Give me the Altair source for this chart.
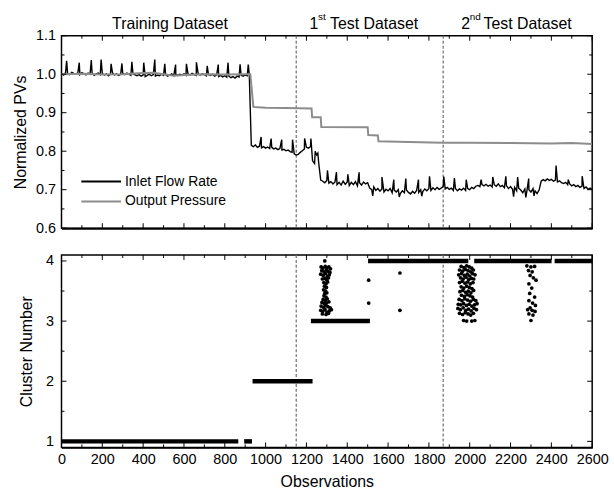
import altair as alt
import pandas as pd

F = "Liberation Sans"

# ---------------- data ----------------
flow_obs = list(range(0, 2601, 10))
flow_val = [
    1.002, 0.998, 1.004, 1.001, 0.999, 1.005, 1.002, 1.000, 1.003, 0.999,
    1.004, 1.001, 0.998, 1.003, 1.000, 1.002, 0.997, 1.001, 1.003, 0.999,
    1.002, 0.998, 1.001, 0.996, 1.000, 1.003, 0.998, 1.001, 0.997, 1.000,
    1.002, 0.999, 1.003, 1.000, 0.997, 1.001, 0.998, 0.996, 0.999, 0.995,
    0.998, 0.994, 0.997, 1.000, 0.996, 0.999, 0.995, 0.998, 0.996, 1.000,
    0.997, 0.999, 0.995, 0.998, 1.001, 0.996, 0.999, 0.997, 1.000, 0.998,
    1.001, 0.997, 1.000, 0.998, 1.002, 0.999, 0.997, 1.000, 0.998, 1.001,
    0.999, 0.996, 0.999, 0.997, 1.000, 0.995, 0.998, 0.994, 0.997, 0.993,
    0.996, 0.992, 0.995, 0.991, 0.994, 0.990, 0.995, 0.993, 0.997, 0.995,
    0.998, 0.996, 0.999, 0.815, 0.812, 0.816, 0.810, 0.813, 0.809, 0.812,
    0.808, 0.811, 0.807, 0.810, 0.806, 0.808, 0.804, 0.807, 0.803, 0.805,
    0.801, 0.803, 0.799, 0.797, 0.793, 0.790, 0.792, 0.797, 0.801, 0.806,
    0.810, 0.808, 0.812, 0.775, 0.768, 0.790, 0.770, 0.725, 0.722, 0.718,
    0.724, 0.717, 0.721, 0.715, 0.720, 0.713, 0.719, 0.712, 0.722, 0.714,
    0.720, 0.711, 0.719, 0.713, 0.721, 0.710, 0.718, 0.712, 0.720, 0.715,
    0.718, 0.704, 0.700, 0.707, 0.698, 0.703, 0.696, 0.702, 0.694, 0.701,
    0.697, 0.703, 0.692, 0.699, 0.694, 0.700, 0.690, 0.697, 0.692, 0.699,
    0.693, 0.689, 0.696, 0.691, 0.698, 0.693, 0.700, 0.695, 0.702, 0.697,
    0.703, 0.698, 0.705, 0.700, 0.706, 0.701, 0.704, 0.708, 0.702, 0.706,
    0.701, 0.704, 0.698, 0.703, 0.697, 0.702, 0.699, 0.704, 0.698, 0.703,
    0.700, 0.706, 0.703, 0.709, 0.711, 0.708, 0.713, 0.710, 0.714, 0.709,
    0.712, 0.707, 0.713, 0.709, 0.715, 0.708, 0.711, 0.705, 0.710, 0.703,
    0.708, 0.701, 0.706, 0.697, 0.704, 0.699, 0.692, 0.702, 0.696, 0.700,
    0.694, 0.703, 0.697, 0.690, 0.699, 0.722, 0.726, 0.723, 0.728, 0.724,
    0.727, 0.722, 0.725, 0.720, 0.723, 0.718, 0.716, 0.719, 0.713, 0.715,
    0.710, 0.713, 0.708, 0.711, 0.706, 0.709, 0.703, 0.707, 0.701, 0.704,
    0.700,
]
spike_obs = [25, 87, 146, 194, 243, 296, 345, 403, 457, 506, 559, 612, 661,
             714, 768, 816, 875, 915, 978, 1027, 1079, 1132, 1191, 1222, 1243,
             1256, 1303, 1347, 1403, 1458, 1525, 1570, 1628, 1655, 1687, 1749,
             1765, 1803, 1873, 1925, 1983, 2056, 2113, 2177, 2215, 2235, 2275,
             2289, 2315, 2423, 2483, 2551]
spike_val = [1.035, 1.030, 1.037, 1.038, 1.027, 1.028, 1.032, 1.030, 1.038,
             1.027, 1.025, 1.027, 1.031, 1.022, 1.025, 1.030, 1.026, 1.025,
             0.837, 0.833, 0.830, 0.830, 0.833, 0.833, 0.800, 0.795, 0.750,
             0.746, 0.740, 0.745, 0.684, 0.733, 0.726, 0.681, 0.729, 0.726,
             0.683, 0.735, 0.734, 0.730, 0.726, 0.726, 0.733, 0.735, 0.682,
             0.733, 0.680, 0.729, 0.684, 0.763, 0.726, 0.735]

press_obs = [0, 100, 200, 300, 400, 450, 500, 550, 600, 700, 800, 900, 925,
             940, 1000, 1100, 1225, 1228, 1270, 1273, 1500, 1503, 1550, 1553,
             1700, 1870, 2000, 2200, 2400, 2500, 2600]
press_val = [1.000, 1.001, 0.999, 1.000, 1.003, 1.004, 1.000, 0.996, 0.998,
             1.000, 0.999, 1.000, 1.000, 0.915, 0.913, 0.912, 0.911, 0.888,
             0.888, 0.863, 0.862, 0.842, 0.841, 0.826, 0.824, 0.822, 0.822,
             0.821, 0.820, 0.821, 0.819]

vline_obs = [1150, 1870]

band_start = [0, 895, 936, 1222, 1502, 2022, 2416]
band_end = [866, 933, 1230, 1511, 1993, 2401, 2600]
band_cluster = [1, 1, 2, 3, 4, 4, 4]

ptA_obs = [1290, 1272, 1280, 1292, 1300, 1310, 1318, 1275, 1286, 1297, 1306,
           1315, 1270, 1282, 1294, 1303, 1312, 1278, 1290, 1300, 1308, 1285,
           1296, 1304, 1288, 1298, 1284, 1294, 1290, 1300, 1286, 1296, 1282,
           1292, 1302, 1276, 1288, 1298, 1310, 1272, 1284, 1295, 1305, 1316,
           1270, 1280, 1291, 1300, 1312, 1322, 1278, 1296, 1308]
ptA_val = [4.00, 3.90, 3.88, 3.91, 3.89, 3.90, 3.87, 3.84, 3.82, 3.85, 3.83,
           3.81, 3.78, 3.76, 3.79, 3.74, 3.77, 3.70, 3.71, 3.68, 3.72, 3.64,
           3.62, 3.65, 3.58, 3.56, 3.52, 3.50, 3.46, 3.47, 3.42, 3.40, 3.36,
           3.34, 3.37, 3.31, 3.29, 3.30, 3.32, 3.25, 3.23, 3.26, 3.24, 3.22,
           3.18, 3.16, 3.19, 3.15, 3.17, 3.19, 3.12, 3.11, 3.13]
ptB_obs = [1958, 1972, 1985, 1998, 2010,
           1950, 1965, 1978, 1992, 2005, 2018,
           1946, 1960, 1974, 1988, 2000, 2014, 2026,
           1955, 1968, 1982, 1995, 2008, 2020,
           1950, 1963, 1977, 1990, 2003, 2016,
           1958, 1971, 1985, 1998, 2011,
           1952, 1966, 1980, 1993, 2006, 2019,
           1960, 1974, 1988, 2001, 2014,
           1948, 1962, 1976, 1990, 2004, 2018, 2030,
           1944, 1956, 1970, 1984, 1997, 2010, 2024, 2036,
           1942, 1954, 1968, 1981, 1994, 2007, 2021, 2033,
           1950, 1965, 1978, 1992, 2005, 2018,
           1970, 1985, 2010, 2025]
ptB_val = [3.91, 3.89, 3.92, 3.90, 3.88,
           3.85, 3.83, 3.86, 3.84, 3.82, 3.85,
           3.77, 3.79, 3.76, 3.78, 3.75, 3.79, 3.77,
           3.72, 3.70, 3.73, 3.69, 3.71, 3.70,
           3.64, 3.66, 3.63, 3.65, 3.62, 3.64,
           3.57, 3.55, 3.58, 3.56, 3.54,
           3.49, 3.51, 3.48, 3.50, 3.47, 3.51,
           3.43, 3.41, 3.44, 3.42, 3.40,
           3.36, 3.34, 3.37, 3.35, 3.33, 3.36, 3.34,
           3.28, 3.27, 3.29, 3.26, 3.28, 3.25, 3.27, 3.29,
           3.21, 3.19, 3.22, 3.18, 3.20, 3.17, 3.21, 3.19,
           3.13, 3.11, 3.14, 3.12, 3.10, 3.13,
           3.01, 3.00, 3.00, 3.01]
ptC_obs = [2280, 2300, 2318, 2288, 2306, 2296, 2312, 2325, 2290, 2304, 2294,
           2318, 2290, 2308, 2322, 2296, 2284, 2306, 2320, 2290, 2310, 2300]
ptC_val = [3.92, 3.90, 3.91, 3.84, 3.82, 3.76, 3.72, 3.68, 3.62, 3.55, 3.46,
           3.40, 3.34, 3.30, 3.26, 3.22, 3.19, 3.18, 3.16, 3.12, 3.10, 3.01]
ptD_obs = [1505, 1505, 1658, 1658]
ptD_val = [3.68, 3.30, 3.80, 3.18]

x_major = list(range(0, 2601, 200))
x_minor = list(range(100, 2600, 200))
pv_major = [0.6, 0.7, 0.8, 0.9, 1.0, 1.1]
pv_minor = [0.65, 0.75, 0.85, 0.95, 1.05]
cl_major = [1, 2, 3, 4]
cl_minor = [1.5, 2.5, 3.5]

series_names = ["Inlet Flow Rate", "Output Pressure"]
series_colors = ["#000000", "#8c8c8c"]

header_main_obs = [248, 1316, 2068]
header_main_txt = ["Training Dataset", "Test Dataset", "Test Dataset"]
header_num_obs = [1215, 1959]
header_num_txt = ["1", "2"]
header_sup_obs = [1257, 2000]
header_sup_txt = ["st", "nd"]

# ---------------- frames ----------------
flow = pd.DataFrame({"obs": flow_obs + spike_obs, "val": flow_val + spike_val})
flow = flow.sort_values("obs", kind="stable")
flow["series"] = series_names[0]
press = pd.DataFrame({"obs": press_obs, "val": press_val})
press["series"] = series_names[1]

bands = pd.DataFrame({"obs": band_start, "obs_end": band_end, "cluster": band_cluster})
pts = pd.DataFrame({"obs": ptA_obs + ptB_obs + ptC_obs + ptD_obs,
                    "cluster": ptA_val + ptB_val + ptC_val + ptD_val})

W, H1, H2 = 535, 194, 194

xs = alt.Scale(domain=[0, 2600], nice=False, zero=False)
ys1 = alt.Scale(domain=[0.6, 1.1], nice=False, zero=False)
ys2 = alt.Scale(domain=[0.9, 4.1], nice=False, zero=False)

x_axis_top = alt.Axis(values=x_major, labels=False, title=None, domain=True,
                      domainWidth=2, domainColor="black")
x_axis_bot = alt.Axis(values=x_major, format="d", title="Observations",
                      labelPadding=5, titlePadding=8, labelFlush=False,
                      domain=True, domainWidth=2, domainColor="black")
y_axis_top = alt.Axis(values=pv_major, format=".1f", title="Normalized PVs",
                      labelPadding=6, titlePadding=7)
y_axis_bot = alt.Axis(values=cl_major, format="d", title="Cluster Number",
                      labelPadding=8, titlePadding=11)


def x_ticks(vals, length, H, xaxis):
    df = pd.DataFrame({"obs": vals})
    base = alt.Chart(df).mark_rule(color="black", strokeWidth=1)
    X = alt.X("obs:Q", scale=xs, axis=xaxis)
    return [base.encode(x=X, y=alt.value(H - length), y2=alt.value(H)),
            base.encode(x=X, y=alt.value(0), y2=alt.value(length))]


def y_ticks(vals, length, field, ys, yaxis):
    df = pd.DataFrame({field: vals})
    base = alt.Chart(df).mark_rule(color="black", strokeWidth=1)
    Y = alt.Y(f"{field}:Q", scale=ys, axis=yaxis)
    return [base.encode(y=Y, x=alt.value(0), x2=alt.value(length)),
            base.encode(y=Y, x=alt.value(W - length), x2=alt.value(W))]


def vlines(xaxis):
    return alt.Chart(pd.DataFrame({"obs": vline_obs})).mark_rule(
        color="#6e6e6e", strokeWidth=1.2, strokeDash=[3, 2]
    ).encode(x=alt.X("obs:Q", scale=xs, axis=xaxis))


# ---------------- top panel ----------------
flow_line = alt.Chart(flow).mark_line(color=series_colors[0], strokeWidth=1.4, clip=True).encode(
    x=alt.X("obs:Q", scale=xs, axis=x_axis_top),
    y=alt.Y("val:Q", scale=ys1, axis=y_axis_top),
    order="obs:Q",
)
press_line = alt.Chart(press).mark_line(color=series_colors[1], strokeWidth=2, clip=True).encode(
    x=alt.X("obs:Q", scale=xs, axis=x_axis_top),
    y=alt.Y("val:Q", scale=ys1, axis=y_axis_top),
    order="obs:Q",
)

hdr_main = alt.Chart(pd.DataFrame({"obs": header_main_obs, "label": header_main_txt})).mark_text(
    align="left", baseline="alphabetic", font=F, fontSize=16, color="black"
).encode(x=alt.X("obs:Q", scale=xs, axis=x_axis_top), y=alt.value(-7), text="label:N")
hdr_num = alt.Chart(pd.DataFrame({"obs": header_num_obs, "label": header_num_txt})).mark_text(
    align="left", baseline="alphabetic", font=F, fontSize=16, color="black"
).encode(x=alt.X("obs:Q", scale=xs, axis=x_axis_top), y=alt.value(-7), text="label:N")
hdr_sup = alt.Chart(pd.DataFrame({"obs": header_sup_obs, "label": header_sup_txt})).mark_text(
    align="left", baseline="alphabetic", font=F, fontSize=10, color="black"
).encode(x=alt.X("obs:Q", scale=xs, axis=x_axis_top), y=alt.value(-16), text="label:N")

legend_layers = []
for i, (name, col) in enumerate(zip(series_names, series_colors)):
    ldf = pd.DataFrame({"label": [name]})
    yy = 147 + 20 * i
    legend_layers.append(
        alt.Chart(ldf).mark_rule(color=col, strokeWidth=2).encode(
            x=alt.value(20), x2=alt.value(60), y=alt.value(yy))
    )
    legend_layers.append(
        alt.Chart(ldf).mark_text(align="left", baseline="middle", font=F,
                                 fontSize=14, color="black").encode(
            x=alt.value(64), y=alt.value(yy), text="label:N")
    )

top = alt.layer(
    vlines(x_axis_top),
    flow_line,
    press_line,
    *x_ticks(x_major, 5, H1, x_axis_top),
    *x_ticks(x_minor, 3, H1, x_axis_top),
    *y_ticks(pv_major, 5, "val", ys1, y_axis_top),
    *y_ticks(pv_minor, 3, "val", ys1, y_axis_top),
    hdr_main, hdr_num, hdr_sup,
    *legend_layers,
).properties(width=W, height=H1)

# ---------------- bottom panel ----------------
band_layer = alt.Chart(bands).mark_rule(color="black", strokeWidth=4.5).encode(
    x=alt.X("obs:Q", scale=xs, axis=x_axis_bot),
    x2="obs_end:Q",
    y=alt.Y("cluster:Q", scale=ys2, axis=y_axis_bot),
)
pt_layer = alt.Chart(pts).mark_circle(color="black", size=14, opacity=1).encode(
    x=alt.X("obs:Q", scale=xs, axis=x_axis_bot),
    y=alt.Y("cluster:Q", scale=ys2, axis=y_axis_bot),
)

bottom = alt.layer(
    vlines(x_axis_bot),
    band_layer,
    pt_layer,
    *x_ticks(x_major, 5, H2, x_axis_bot),
    *x_ticks(x_minor, 3, H2, x_axis_bot),
    *y_ticks(cl_major, 5, "cluster", ys2, y_axis_bot),
    *y_ticks(cl_minor, 3, "cluster", ys2, y_axis_bot),
).properties(width=W, height=H2)

chart = alt.vconcat(top, bottom, spacing=16).properties(
    padding={"left": 12, "top": 9, "right": 5, "bottom": 5},
    background="white",
).configure_view(
    stroke="black", strokeWidth=1.5
).configure_axis(
    labelFont=F, titleFont=F, labelFontSize=14.5, titleFontSize=16,
    titleFontWeight="normal", labelColor="black", titleColor="black",
    grid=False, ticks=False, domain=False,
)

chart.save("out.html", embed_options={"renderer": "svg", "actions": False})
